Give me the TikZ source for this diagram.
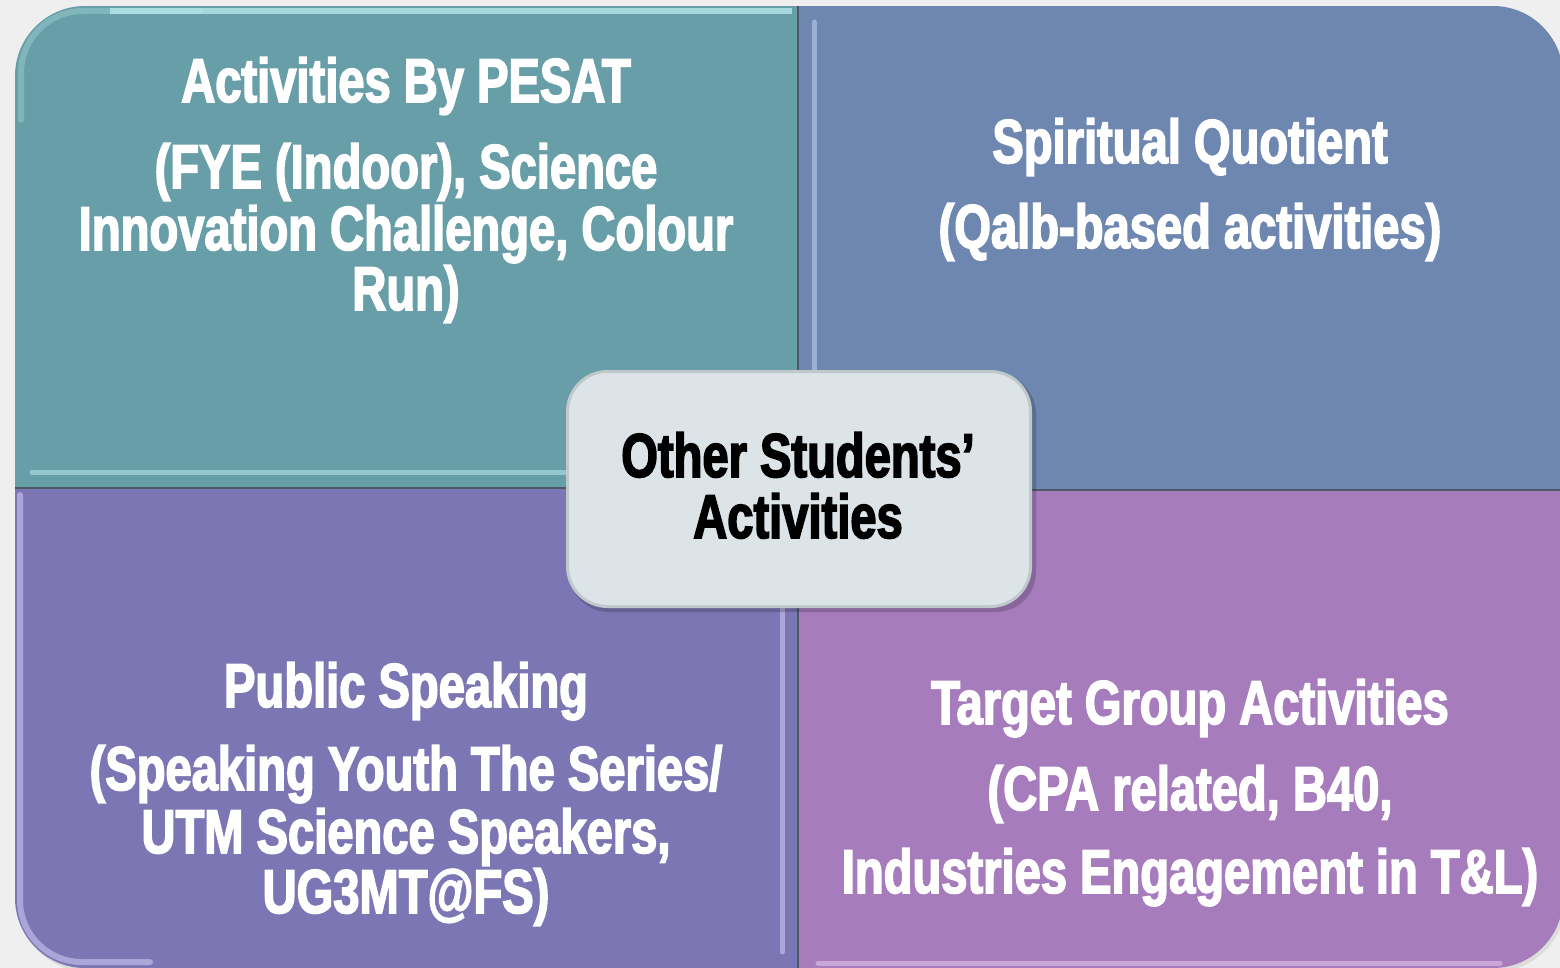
\documentclass[tikz,border=0pt]{standalone}
\usepackage{fontspec}
\newfontfamily\cf{Liberation Sans}[FakeStretch=0.76,FakeBold=2.5]
\definecolor{bgc}{HTML}{EFEFEF}
\definecolor{tlc}{HTML}{689EA7}
\definecolor{trc}{HTML}{6E87B0}
\definecolor{blc}{HTML}{7D76B4}
\definecolor{brc}{HTML}{A67CBC}
\definecolor{tlhi}{HTML}{B9ECEF}
\definecolor{trhi}{HTML}{C3D3F5}
\definecolor{blhi}{HTML}{D4CCF6}
\definecolor{brhi}{HTML}{E6CCF2}
\definecolor{sep}{HTML}{4C5866}
\definecolor{ctrc}{HTML}{DCE4E7}
\definecolor{ctrb}{HTML}{BFC9CC}
\tikzset{
  txt/.style={text=white,anchor=base,inner sep=0pt,font=\cf\bfseries\fontsize{62}{61}\selectfont},
  ctxt/.style={txt,text=black},
  hi/.style={line width=6pt,line cap=round,opacity=0.55},
}
\begin{document}
\begin{tikzpicture}[x=1pt,y=-1pt]
\useasboundingbox (0,0) rectangle (1560,968);
\fill[bgc] (0,0) rectangle (1560,968);
\fill[black,opacity=0.08,rounded corners=72pt] (17,9) rectangle (1566,972);
\begin{scope}
  \clip[rounded corners=70pt] (15,6) rectangle (1563,968);
  \fill[tlc] (15,6) rectangle (798,488);
  \fill[trc] (798,6) rectangle (1563,490);
  \fill[blc] (15,488) rectangle (798,968);
  \fill[brc] (798,490) rectangle (1563,968);
  % bevel highlights
  \draw[hi,tlhi,rounded corners=62pt,opacity=0.3] (21,120) -- (21,11) -- (200,11);
  \draw[hi,tlhi,opacity=0.75,line cap=butt] (110,11) -- (792,11);
  \draw[hi,tlhi,line width=5pt] (32,472) -- (790,472);
  \draw[hi,trhi,line width=5pt] (814,22) -- (814,480);
  \draw[hi,blhi,rounded corners=62pt] (20,495) -- (20,962) -- (150,962);
  \draw[hi,blhi,line width=5pt] (782,500) -- (782,952);
  \draw[hi,brhi,line width=5pt] (818,963) -- (1500,963);
  % separators
  \draw[sep,line width=1.5pt] (798,6) -- (798,968);
  \draw[sep,line width=1.5pt] (15,488) -- (798,488);
  \draw[sep,line width=1.5pt] (798,490) -- (1563,490);
\end{scope}
% centre box
\fill[black,opacity=0.18,rounded corners=40pt] (569,374) rectangle (1036,612);
\node[draw=ctrb,line width=3pt,fill=ctrc,rounded corners=40pt,minimum width=463pt,minimum height=235pt,inner sep=0pt] (ctr) at (799,489) {};
% centre text
\node[ctxt] (c1) at (798,477) {Other Students’};
\node[ctxt] (c2) at (798,538) {Activities};
% top-left
\node[txt] (tl1) at (406,102) {Activities By PESAT};
\node[txt] (tl2) at (406,188) {(FYE (Indoor), Science};
\node[txt] (tl3) at (406,250) {Innovation Challenge, Colour};
\node[txt] (tl4) at (406,310) {Run)};
% top-right
\node[txt] (tr1) at (1190,163) {Spiritual Quotient};
\node[txt] (tr2) at (1190,248) {(Qalb-based activities)};
% bottom-left
\node[txt] (bl1) at (406,707) {Public Speaking};
\node[txt] (bl2) at (406,790) {(Speaking Youth The Series/};
\node[txt] (bl3) at (406,853) {UTM Science Speakers,};
\node[txt] (bl4) at (406,913) {UG3MT@FS)};
% bottom-right
\node[txt] (br1) at (1190,724) {Target Group Activities};
\node[txt] (br2) at (1190,810) {(CPA related, B40,};
\node[txt] (br3) at (1190,893) {Industries Engagement in T\&L)};
\end{tikzpicture}
\end{document}
